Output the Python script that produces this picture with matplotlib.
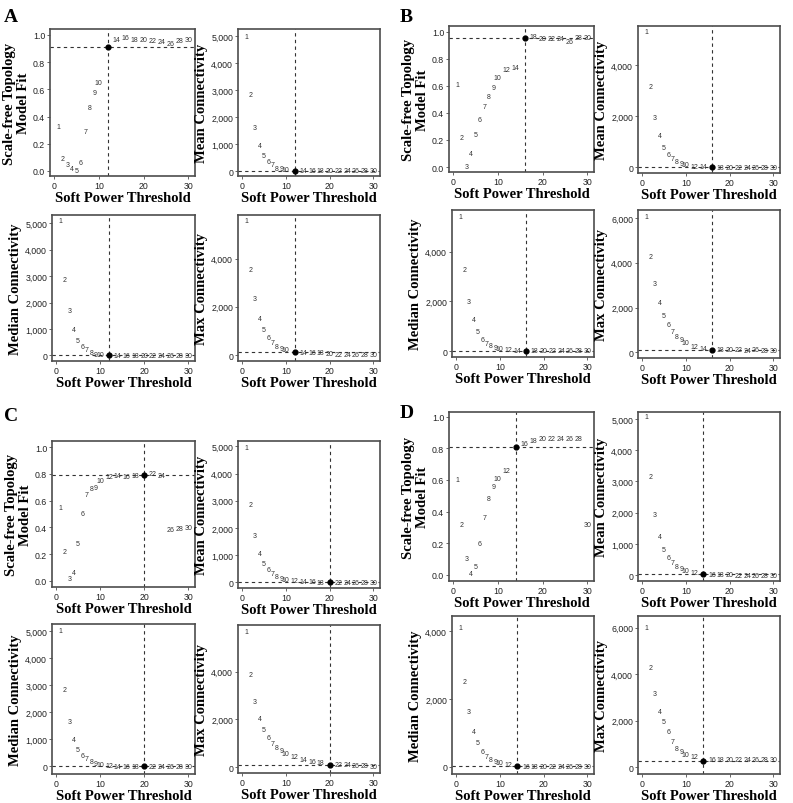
import numpy as np
import matplotlib.pyplot as plt
from matplotlib.ticker import FuncFormatter

# --- Data ---
powers = [1, 2, 3, 4, 5, 6, 7, 8, 9, 10, 12, 14, 16, 18, 20, 22, 24, 26, 28, 30]

# panel A (chosen power 12)
a_fit = [0.33, 0.09, 0.05, 0.02, 0.0, 0.06, 0.29, 0.47, 0.58, 0.65,
         0.91, 0.97, 0.98, 0.97, 0.97, 0.96, 0.95, 0.94, 0.96, 0.97]
a_mean = [5000, 2820, 1630, 950, 580, 360, 235, 110, 75, 60,
          15, 8, 5, 4, 3, 2, 2, 1, 1, 1]
a_median = [5110, 2890, 1680, 970, 570, 340, 215, 90, 40, 40,
            10, 5, 3, 2, 2, 1, 1, 1, 1, 1]
a_max = [5580, 3540, 2330, 1530, 1040, 720, 520, 370, 270, 230,
         123, 123, 110, 96, 55, 41, 41, 20, 41, 41]

# panel B (chosen power 16)
b_fit = [0.61, 0.22, 0.005, 0.10, 0.24, 0.35, 0.45, 0.52, 0.59, 0.66,
         0.725, 0.74, 0.955, 0.967, 0.948, 0.955, 0.95, 0.93, 0.96, 0.958]
b_mean = [5290, 3160, 1950, 1230, 780, 505, 350, 220, 145, 115,
          52, 26, 5, 3, 2, 2, 1, 1, 1, 1]
b_median = [5400, 3260, 1990, 1260, 790, 480, 310, 210, 135, 95,
            55, 15, 5, 3, 2, 2, 1, 1, 1, 1]
b_max = [6060, 4290, 3080, 2230, 1640, 1230, 950, 710, 560, 440,
         265, 190, 118, 148, 118, 118, 90, 118, 90, 90]

# panel C (chosen power 20)
c_fit = [0.55, 0.22, 0.02, 0.06, 0.28, 0.505, 0.645, 0.69, 0.70, 0.75,
         0.78, 0.785, 0.777, 0.787, 0.792, 0.80, 0.79, 0.385, 0.39, 0.40]
c_mean = [4975, 2850, 1710, 1060, 690, 470, 320, 210, 150, 100,
          60, 30, 20, 10, 5, 3, 2, 1, 1, 1]
c_median = [5025, 2850, 1670, 1000, 630, 410, 285, 175, 110, 85,
            25, 10, 5, 3, 2, 1, 1, 1, 1, 1]
c_max = [5670, 3860, 2760, 2050, 1590, 1250, 1000, 810, 700, 585,
         420, 320, 240, 170, 98, 98, 85, 70, 55, 42]

# panel D (chosen power 14)
d_fit = [0.60, 0.32, 0.10, 0.01, 0.05, 0.20, 0.36, 0.48, 0.56, 0.61,
         0.66, 0.81, 0.83, 0.85, 0.86, 0.86, 0.86, 0.86, 0.86, 0.32]
d_mean = [5060, 3150, 1950, 1250, 820, 560, 400, 280, 200, 150,
          90, 20, 8, 5, 3, 2, 2, 1, 1, 1]
d_median = [4090, 2500, 1620, 1030, 735, 470, 320, 235, 170, 130,
            80, 15, 6, 4, 3, 2, 1, 1, 1, 1]
d_max = [6000, 4270, 3150, 2410, 1980, 1510, 1080, 820, 650, 560,
         470, 260, 345, 345, 340, 335, 335, 330, 330, 330]

panels = [
    ("A", 12, a_fit, a_mean, a_median, a_max),
    ("B", 16, b_fit, b_mean, b_median, b_max),
    ("C", 20, c_fit, c_mean, c_median, c_max),
    ("D", 14, d_fit, d_mean, d_median, d_max),
]

# y ranges and tick steps per panel: fit, mean, median, max
ylims = {
    "A": [(-0.037, 1.044), (-185, 5260), (-215, 5315), (-246, 5802)],
    "B": [(-0.037, 1.044), (-221, 5519), (-241, 5672), (-251, 6355)],
    "C": [(-0.045, 1.045), (-209, 5197), (-284, 5272), (-251, 5951)],
    "D": [(-0.04, 1.03), (-190, 5220), (-206, 4441), (-300, 6509)],
}
ysteps = {
    "A": [0.2, 1000, 1000, 2000],
    "B": [0.2, 2000, 2000, 2000],
    "C": [0.2, 1000, 1000, 2000],
    "D": [0.2, 1000, 2000, 2000],
}

# --- Layout (pixel boxes: left, right, top, bottom) ---
W, H = 793, 804
boxes = {
    "A": [(50, 195, 30, 177), (238, 380, 30, 177), (52, 195, 216, 362), (238, 380, 216, 362)],
    "B": [(449, 594, 27, 173), (638, 780, 27, 174), (452, 594, 211, 358), (638, 780, 211, 359)],
    "C": [(52, 195, 442, 588), (238, 380, 442, 589), (52, 195, 625, 775), (238, 380, 626, 774)],
    "D": [(449, 594, 413, 582), (638, 780, 413, 582), (452, 594, 617, 775), (638, 780, 617, 775)],
}
letter_pos = {"A": (4, 22), "B": (400, 22), "C": (4, 421), "D": (400, 418)}

ylabels = ["Scale-free Topology\nModel Fit", "Mean Connectivity",
           "Median Connectivity", "Max Connectivity"]

serif = "Liberation Serif"
sans = "Liberation Sans"
frame = "#4d4d4d"
comma = FuncFormatter(lambda v, pos: f"{v:,.0f}")
onedec = FuncFormatter(lambda v, pos: f"{v:.1f}")


def add_ax(box):
    l, r, t, b = box
    return fig.add_axes([l / W, 1 - b / H, (r - l) / W, (b - t) / H])


def draw(ax, vals, chosen, ylim, step, is_fit):
    vals = np.array(vals, dtype=float)
    k = powers.index(chosen)
    for p, v in zip(powers, vals):
        if p == chosen:
            continue
        ax.text(p, v, str(p), ha="center", va="center", fontsize=5.0,
                family=sans, color="#333333")
    ax.scatter([chosen], [vals[k]], s=12, color="black", zorder=3)
    ax.axvline(chosen, color="#333333", ls=(0, (3, 3)), lw=0.8)
    ax.axhline(vals[k], color="#333333", ls=(0, (3, 3)), lw=0.8)
    ax.set_xlim(-0.9, 31.5)
    ax.set_xticks([0, 10, 20, 30])
    ax.set_ylim(*ylim)
    top = ylim[1] + 1e-9
    ax.set_yticks(np.arange(0, top, step))
    ax.yaxis.set_major_formatter(onedec if is_fit else comma)
    for s in ax.spines.values():
        s.set_color(frame)
        s.set_linewidth(1.2)
    ax.tick_params(length=2, width=0.6, color=frame, pad=1.5,
                   labelsize=6.3, labelcolor="#222222")
    for lab in ax.get_xticklabels() + ax.get_yticklabels():
        lab.set_family(sans)


fig = plt.figure(figsize=(W / 100, H / 100), dpi=100)

for letter, chosen, fit, mean, median, mx in panels:
    series = [fit, mean, median, mx]
    for i in range(4):
        ax = add_ax(boxes[letter][i])
        draw(ax, series[i], chosen, ylims[letter][i], ysteps[letter][i], i == 0)
        ax.set_xlabel("Soft Power Threshold", family=serif, fontweight="bold",
                      fontsize=10.5, labelpad=1)
        ax.set_ylabel(ylabels[i], family=serif, fontweight="bold",
                      fontsize=10.5, labelpad=2, linespacing=1.1)
    lx, ly = letter_pos[letter]
    fig.text(lx / W, 1 - ly / H, letter, family=serif, fontweight="bold",
             fontsize=14, ha="left", va="baseline")

fig.savefig("out.png", dpi=100)
